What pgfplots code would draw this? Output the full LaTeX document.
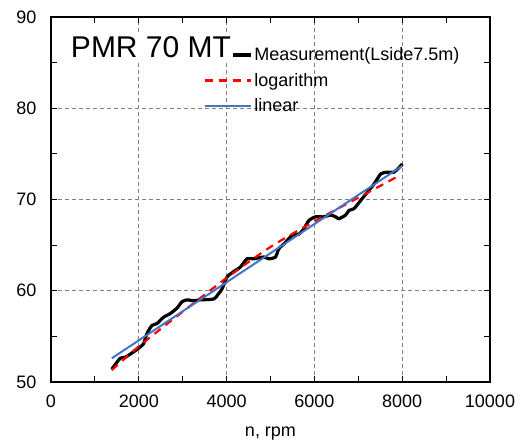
\documentclass[border=0pt]{standalone}
\usepackage{pgfplots}
\pgfplotsset{compat=1.18}
\usepackage{fontspec}
\setmainfont{Liberation Sans}
\definecolor{linblue}{RGB}{68,114,196}

\begin{document}
\begin{tikzpicture}
\begin{axis}[
  scale only axis,
  width=439pt, height=365pt,
  xmin=0, xmax=10000, ymin=50, ymax=90,
  xtick={0,2000,...,10000},
  ytick={50,60,...,90},
  minor xtick={1000,3000,...,9000},
  minor ytick={55,65,75,85},
  scaled x ticks=false,
  xticklabel style={/pgf/number format/1000 sep={}, yshift=-9pt},
  yticklabel style={xshift=-11pt},
  /pgf/number format/assume math mode=true,
  tick label style={font=\fontsize{18}{20}\selectfont},
  tick align=inside,
  major tick length=6pt, minor tick length=6pt,
  tick style={black, line width=1pt},
  axis line style={black, line width=1.8pt},
  grid=major,
  major grid style={gray, dash pattern=on 4pt off 3pt, line width=0.8pt},
  xlabel={n, rpm},
  xlabel style={font=\fontsize{18}{20}\selectfont, yshift=-13pt},
  legend style={at={(0.346,0.922)}, anchor=north west, draw=none, fill=none,
    font=\fontsize{18}{20}\selectfont, row sep=7pt, inner sep=0pt},
  legend cell align=left,
  legend image code/.code={\draw[#1] (0pt,0pt) -- (46pt,0pt);},
]
\addplot[black, line width=3.2pt, smooth, tension=0.4] coordinates {
(1385,51.4) (1575,52.6) (1690,52.7) (1880,53.3) (1995,53.7) (2110,54.2)
(2185,55.3) (2300,56.2) (2415,56.4) (2565,57.1) (2717,57.5) (2870,58.1)
(2985,58.8) (3100,59.0) (3250,58.9) (3400,59.0) (3706,59.1) (3820,59.7)
(3896,60.2) (4010,61.5) (4163,62.1) (4315,62.6) (4467,63.5) (4620,63.5)
(4848,63.7) (4962,63.5) (5114,63.7) (5190,64.6) (5342,65.3) (5495,66.1)
(5647,66.2) (5761,66.8) (5875,67.7) (6027,68.1) (6218,68.1) (6370,68.3)
(6484,68.1) (6560,67.9) (6712,68.3) (6788,68.8) (6903,69.0) (7055,69.9)
(7207,70.8) (7359,71.7) (7511,72.8) (7664,73.0) (7816,73.0) (8006,73.9)
};
\addlegendentry{Measurement(Lside7.5m)}
\addplot[red, line width=2.2pt, dash pattern=on 8pt off 6pt, smooth] coordinates {
(1385,51.3) (2000,53.9) (3000,57.7) (4000,61.4) (5000,64.8) (6000,67.6) (7000,70.2) (7850,72.4)
};
\addlegendentry{logarithm}
\addplot[linblue, line width=2pt] coordinates {
(1385,52.6) (8006,73.7)
};
\addlegendentry{linear}
\coordinate (ttl) at (axis cs:2278,86.7);
\end{axis}
\node[fill=white, inner sep=2pt, font=\fontsize{30}{32}\selectfont] at (ttl) {PMR 70 MT};
\useasboundingbox ([xshift=-51pt,yshift=-65pt]current axis.south west)
  rectangle ([xshift=41pt,yshift=17pt]current axis.north east);
\end{tikzpicture}
\end{document}
